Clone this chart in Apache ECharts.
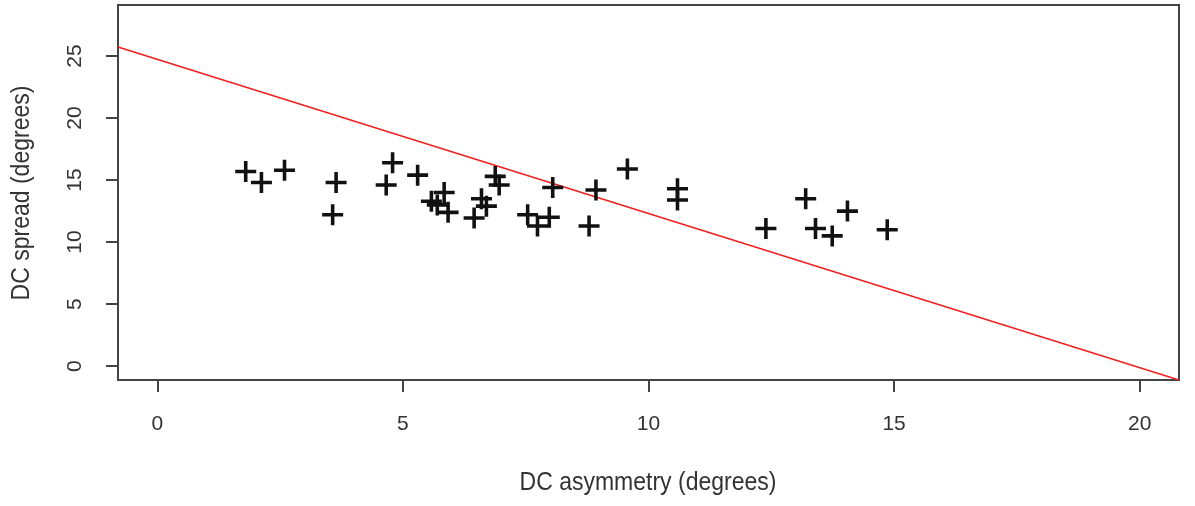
<!DOCTYPE html>
<html>
<head>
<meta charset="utf-8">
<script src="https://cdn.jsdelivr.net/npm/echarts@6/dist/echarts.min.js"></script>
<style>
html,body{margin:0;padding:0;background:#fff;}
#c{width:1195px;height:506px;}
</style>
</head>
<body>
<div id="c"></div>
<script>
// DC asymmetry (x) and DC spread (y)
const asymmetry = [1.80,2.12,2.59,3.57,3.64,4.66,4.79,5.30,5.58,5.70,5.84,5.92,6.45,6.60,6.70,6.88,6.96,7.54,7.74,7.98,8.05,8.79,8.93,9.57,10.59,10.59,12.39,13.20,13.40,13.74,14.05,14.86];
const spread    = [15.7,14.8,15.8,12.2,14.8,14.6,16.4,15.4,13.3,13.0,14.0,12.4,11.95,13.5,12.9,15.3,14.6,12.2,11.3,12.0,14.4,11.3,14.2,15.9,14.3,13.4,11.1,13.5,11.1,10.5,12.5,11.0];
// Fitted line end points (x, y)
const fitX = [-0.8, 20.8];
const fitY = [25.73, -1.12];
const xTicks = [0,5,10,15,20];
const yTicks = [0,5,10,15,20,25];

const FONT = "'Liberation Sans',Arial,sans-serif";
const plus = 'path://M8.3,0H11.7V8.3H20V11.7H11.7V20H8.3V11.7H0V8.3H8.3Z';

const chart = echarts.init(document.getElementById('c'), null, {renderer:'canvas'});
chart.setOption({
  animation:false,
  backgroundColor:'#fff',
  grid:{left:118,top:5,right:16,bottom:126,show:true,borderColor:'#444',borderWidth:2,backgroundColor:'transparent'},
  xAxis:{
    type:'value',min:-0.8,max:20.8,
    splitLine:{show:false},
    axisLine:{show:false,onZero:false},
    axisTick:{show:true,inside:false,length:12,lineStyle:{color:'#444',width:2},customValues:xTicks},
    axisLabel:{show:true,margin:34,fontSize:21,color:'#333',fontFamily:FONT,customValues:xTicks}
  },
  yAxis:{
    type:'value',min:-1.12,max:29.12,
    splitLine:{show:false},
    axisLine:{show:false,onZero:false},
    axisTick:{show:true,inside:false,length:12,lineStyle:{color:'#444',width:2},customValues:yTicks},
    axisLabel:{show:true,rotate:90,margin:32,fontSize:21,color:'#333',fontFamily:FONT,customValues:yTicks}
  },
  graphic:[
    {type:'text',x:648,y:483,scaleX:0.92,style:{text:'DC asymmetry (degrees)',x:0,y:0,align:'center',verticalAlign:'middle',fontSize:25,fontFamily:FONT,fill:'#333'}},
    {type:'text',x:22,y:193,rotation:Math.PI/2,scaleX:0.92,style:{text:'DC spread (degrees)',x:0,y:0,align:'center',verticalAlign:'middle',fontSize:25,fontFamily:FONT,fill:'#333'}}
  ],
  series:[
    {
      type:'line',
      data:fitX.map((x,i)=>[x,fitY[i]]),
      symbol:'none',
      lineStyle:{color:'#ee2020',width:1.6},
      clip:true,z:2
    },
    {
      type:'scatter',
      data:asymmetry.map((x,i)=>[x,spread[i]]),
      symbol:plus,
      symbolSize:21,
      itemStyle:{color:'#111',opacity:1},
      z:3
    }
  ]
});
</script>
</body>
</html>
